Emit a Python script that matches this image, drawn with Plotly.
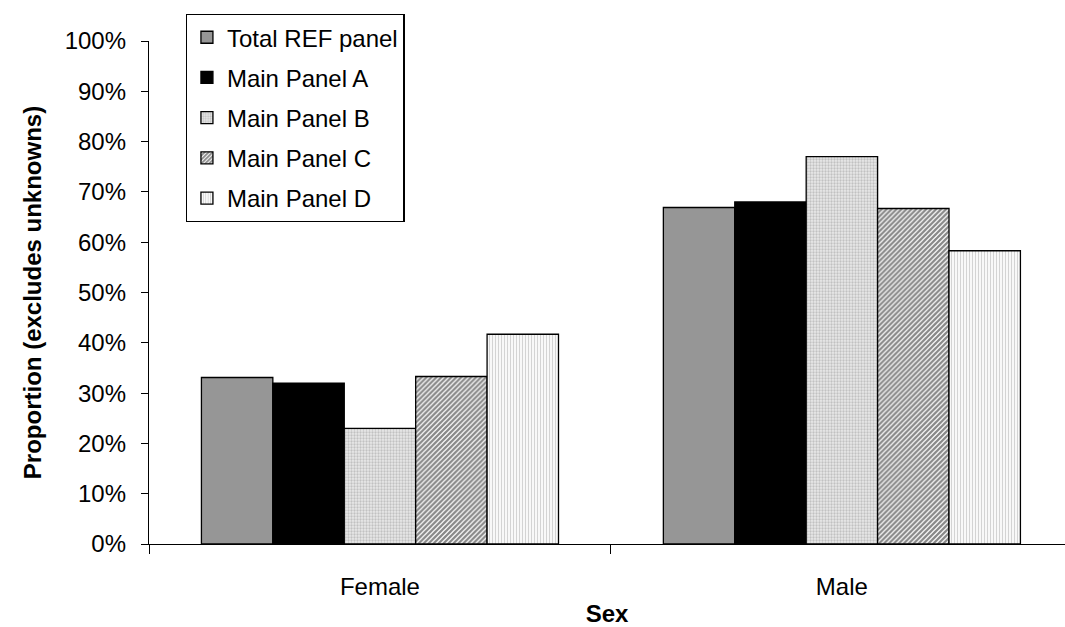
import plotly.graph_objects as go

# Proportion by sex for each panel (unknowns excluded)
categories = ["Female", "Male"]
series_names = ["Total REF panel", "Main Panel A", "Main Panel B", "Main Panel C", "Main Panel D"]
total_ref = [0.331, 0.669]
panel_a = [0.320, 0.680]
panel_b = [0.230, 0.770]
panel_c = [0.333, 0.667]
panel_d = [0.417, 0.583]
y_ticks = [0, 0.1, 0.2, 0.3, 0.4, 0.5, 0.6, 0.7, 0.8, 0.9, 1.0]

series_values = [total_ref, panel_a, panel_b, panel_c, panel_d]

# fill styles: solid grey, solid black, fine speckle, dark diagonal, light vertical lines
styles = [
    dict(color="#969696", pattern=dict(shape="")),
    dict(color="#000000", pattern=dict(shape="")),
    dict(color="#ffffff", pattern=dict(shape=".", fgcolor="#9a9a9a", bgcolor="#e8e8e8",
                                       size=3, solidity=0.45, fillmode="overlay")),
    dict(color="#ffffff", pattern=dict(shape="/", fgcolor="#111111", bgcolor="#ffffff",
                                       size=3.5, solidity=0.65, fillmode="overlay")),
    dict(color="#ffffff", pattern=dict(shape="|", fgcolor="#a8a8a8", bgcolor="#ffffff",
                                       size=3, solidity=0.45, fillmode="overlay")),
]

FONT = "Liberation Sans, Arial, sans-serif"
FS = 24

fig = go.Figure()
for i, (name, vals, st) in enumerate(zip(series_names, series_values, styles)):
    fig.add_trace(go.Bar(
        x=categories, y=vals, name=name, legendgroup=f"g{i}",
        marker=dict(color=st["color"], pattern=st["pattern"],
                    line=dict(color="#000000", width=1.3)),
    ))

fig.update_layout(
    width=1065, height=627,
    margin=dict(l=149, r=0, t=41, b=83),
    paper_bgcolor="white", plot_bgcolor="white",
    barmode="group", bargap=0.227, bargroupgap=0,
    font=dict(family=FONT, size=FS, color="#000000"),
    legend=dict(
        x=0.04, y=1.054, xanchor="left", yanchor="top",
        bordercolor="#000000", borderwidth=1.3, bgcolor="white",
        font=dict(size=FS), tracegroupgap=6, traceorder="grouped",
        itemwidth=30,
    ),
    showlegend=True,
)

fig.update_xaxes(
    range=[-0.5, 1.483], showline=True, linecolor="#000000", linewidth=1.3,
    ticks="outside", tickson="boundaries", ticklen=9, tickcolor="#000000", tickwidth=1.3,
    showgrid=False, zeroline=False, ticklabelstandoff=21,
    title=dict(text="<b>Sex</b>", font=dict(size=FS), standoff=8),
    tickfont=dict(size=FS),
)
fig.update_yaxes(
    range=[0, 1.0], tickvals=y_ticks, tickformat=".0%",
    showline=True, linecolor="#000000", linewidth=1.3,
    ticks="outside", ticklen=7, tickcolor="#000000", tickwidth=1.3,
    showgrid=False, zeroline=False, ticklabelstandoff=10,
    title=dict(text="<b>Proportion (excludes unknowns)</b>", font=dict(size=FS), standoff=16),
    tickfont=dict(size=FS),
)

fig.write_html("out.html")
